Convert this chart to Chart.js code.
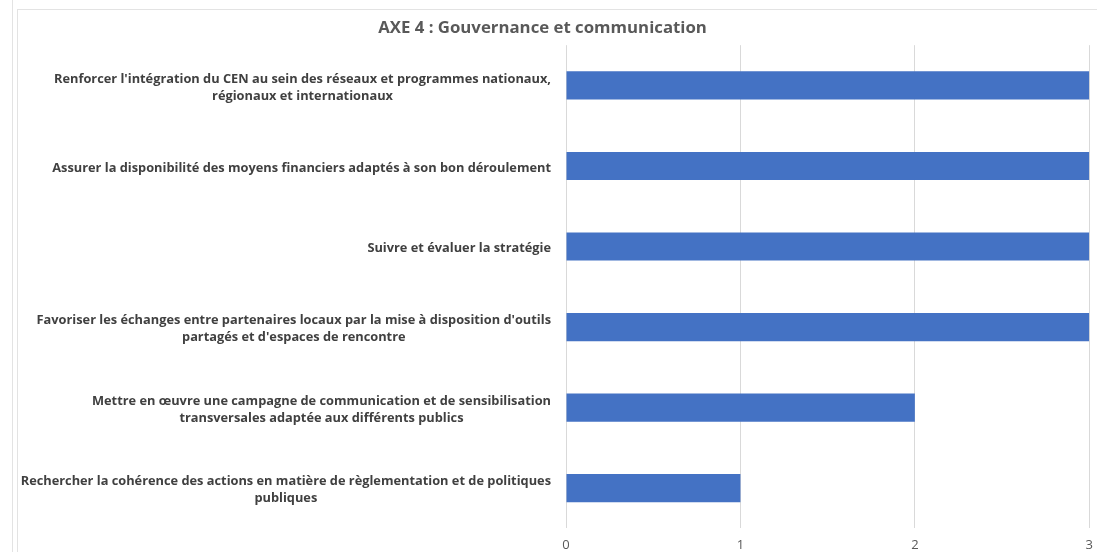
<!DOCTYPE html>
<html>
<head>
<meta charset="utf-8">
<script src="https://cdn.jsdelivr.net/npm/chart.js@4"></script>
<style>
  body { margin: 0; background: #fff; overflow: hidden; }
  .vline { position: absolute; top: 0; width: 1px; height: 552px; background: #e3e3e3; }
  .hline { position: absolute; top: 9px; left: 17px; width: 1080px; height: 1px; background: #e3e3e3; }
  #myChart { position: absolute; left: -9px; top: 10px; }
</style>
</head>
<body>
<div class="vline" style="left:12px"></div>
<div class="vline" style="left:17px; top:9px; height:543px"></div>
<div class="hline"></div>
<canvas id="myChart" width="1111" height="552"></canvas>
<script>
// données
const chartTitle = 'AXE 4 : Gouvernance et communication';
const categories = [
  ["Renforcer l'intégration du CEN au sein des réseaux et programmes nationaux,", "régionaux et internationaux"],
  ["Assurer la disponibilité des moyens financiers adaptés à son bon déroulement"],
  ["Suivre et évaluer la stratégie"],
  ["Favoriser les échanges entre partenaires locaux par la mise à disposition d'outils", "partagés et d'espaces de rencontre"],
  ["Mettre en œuvre une campagne de communication et de sensibilisation", "transversales adaptée aux différents publics"],
  ["Rechercher la cohérence des actions en matière de règlementation et de politiques", "publiques"]
];
const values = [3, 3, 3, 3, 2, 1];
const xTicks = [0, 1, 2, 3];

const FONT = '"Open Sans", "Noto Sans", sans-serif';

// étiquettes de catégories : bloc aligné à droite, lignes centrées (style Excel)
const labelPlugin = {
  id: 'blockLabels',
  afterDraw(chart) {
    const ys = chart.scales.y;
    const ctx = chart.ctx;
    ctx.save();
    ctx.font = 'bold 12.8px ' + FONT;
    ctx.fillStyle = '#404040';
    ctx.textAlign = 'center';
    ctx.textBaseline = 'middle';
    const right = ys.right - 15;
    const lh = 17;
    categories.forEach((lines, i) => {
      const y = ys.getPixelForTick(i) + 2;
      const w = Math.max(...lines.map(l => ctx.measureText(l).width));
      const cx = right - w / 2;
      lines.forEach((l, j) => {
        ctx.fillText(l, cx, y + (j - (lines.length - 1) / 2) * lh);
      });
    });
    ctx.restore();
  }
};

const ctx = document.getElementById('myChart').getContext('2d');
const myChart = new Chart(ctx, {
  type: 'bar',
  data: {
    labels: categories,
    datasets: [{
      data: values,
      backgroundColor: '#4472C4',
      borderWidth: 0,
      barPercentage: 0.35,
      categoryPercentage: 1
    }]
  },
  plugins: [labelPlugin],
  options: {
    indexAxis: 'y',
    responsive: false,
    animation: false,
    layout: { padding: { right: 8, bottom: 0 } },
    plugins: {
      legend: { display: false },
      tooltip: { enabled: false },
      title: {
        display: true,
        text: chartTitle,
        color: '#595959',
        font: { family: FONT, size: 16.8, weight: 'bold' },
        padding: { top: 8, bottom: 7 }
      }
    },
    scales: {
      x: {
        min: 0,
        max: 3,
        afterBuildTicks: s => { s.ticks = xTicks.map(v => ({ value: v })); },
        grid: { color: '#d9d9d9', drawTicks: false },
        border: { display: false },
        ticks: { color: '#595959', font: { family: FONT, size: 13 }, padding: 9 }
      },
      y: {
        grid: { display: false },
        border: { display: false },
        ticks: { display: false },
        afterFit: s => { s.width = 575; }
      }
    }
  }
});
</script>
</body>
</html>
